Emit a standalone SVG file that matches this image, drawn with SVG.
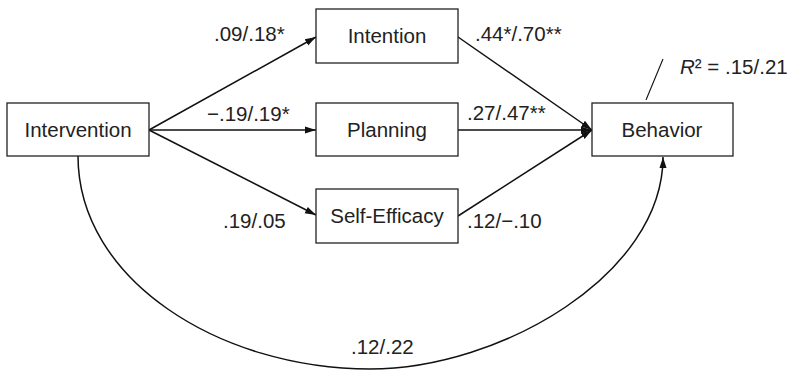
<svg xmlns="http://www.w3.org/2000/svg" width="796" height="370" viewBox="0 0 796 370">
<defs>
<style>
.box{fill:#fff;stroke:#222;stroke-width:1.3}
.t{font-family:"Liberation Sans",Arial,sans-serif;font-size:20.5px;fill:#222}
.c{text-anchor:middle}
.e{fill:none;stroke:#111;stroke-width:1.5}
</style>
<marker id="ah" markerUnits="userSpaceOnUse" markerWidth="12" markerHeight="10" viewBox="0 0 12 10" refX="11" refY="5" orient="auto">
<path d="M0,1.5 L11,5 L0,8.5 Z" fill="#111"/>
</marker>
</defs>
<rect width="796" height="370" fill="#fff"/>
<g id="connectors">
<line class="e" x1="149" y1="130" x2="316" y2="37" marker-end="url(#ah)"/>
<line class="e" x1="149" y1="130" x2="316" y2="130" marker-end="url(#ah)"/>
<line class="e" x1="149" y1="130" x2="316" y2="215" marker-end="url(#ah)"/>
<line class="e" x1="458" y1="37" x2="592" y2="130" marker-end="url(#ah)"/>
<line class="e" x1="458" y1="130" x2="592" y2="130" marker-end="url(#ah)"/>
<line class="e" x1="458" y1="216" x2="592" y2="130" marker-end="url(#ah)"/>
<path class="e" d="M78,156 C78,280 220,369 370,369 C500,369 663,275 663,157" marker-end="url(#ah)"/>
<line class="e" x1="646" y1="100" x2="663" y2="59" style="stroke-width:1.1"/>
</g>
<g id="intervention"><rect class="box" x="7" y="103" width="142" height="53"/><text class="t c" x="78" y="137">Intervention</text></g>
<g id="intention"><rect class="box" x="316" y="9" width="142" height="54"/><text class="t c" x="387" y="43">Intention</text></g>
<g id="planning"><rect class="box" x="316" y="103" width="142" height="53"/><text class="t c" x="387" y="137">Planning</text></g>
<g id="self-efficacy"><rect class="box" x="316" y="189" width="142" height="54"/><text class="t c" x="387" y="223">Self-Efficacy</text></g>
<g id="behavior"><rect class="box" x="592" y="103" width="141" height="53"/><text class="t c" x="662" y="137">Behavior</text></g>
<g id="labels">
<text class="t" x="214" y="41">.09/.18*</text>
<text class="t" x="207" y="121">−.19/.19*</text>
<text class="t" x="223" y="228">.19/.05</text>
<text class="t" x="475" y="41">.44*/.70**</text>
<text class="t" x="467" y="120">.27/.47**</text>
<text class="t" x="467" y="228">.12/−.10</text>
<text class="t" x="351" y="354">.12/.22</text>
<text class="t" x="680" y="74"><tspan font-style="italic">R</tspan>² = .15/.21</text>
</g>
</svg>
